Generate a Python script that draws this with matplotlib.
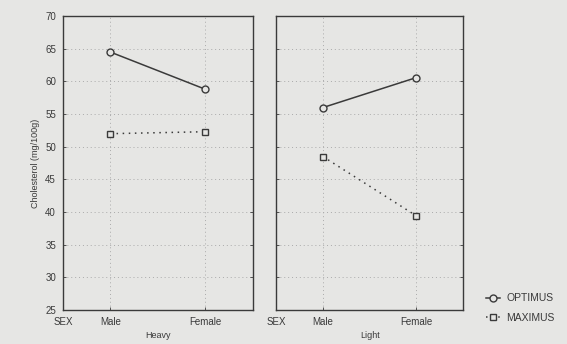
import matplotlib.pyplot as plt
from matplotlib.lines import Line2D

sex_labels = ['SEX', 'Male', 'Female']
panels = ['Heavy', 'Light']
optimus = {'Heavy': [64.5, 58.8], 'Light': [56.0, 60.6]}
maximus = {'Heavy': [52.0, 52.3], 'Light': [48.5, 39.4]}
yticks = [25, 30, 35, 40, 45, 50, 55, 60, 65, 70]

BG = '#e6e6e4'
INK = '#3a3a3a'

plt.rcParams['font.family'] = ['Liberation Sans', 'DejaVu Sans']

fig = plt.figure(figsize=(5.67, 3.44), dpi=100, facecolor=BG)
boxes = [[0.111, 0.099, 0.335, 0.854], [0.487, 0.099, 0.330, 0.854]]

for i, (panel, box) in enumerate(zip(panels, boxes)):
    ax = fig.add_axes(box)
    ax.set_facecolor(BG)
    xs = [1, 3]
    ax.plot(xs, optimus[panel], color=INK, lw=1.1, marker='o', ms=5,
            mfc=BG, mec=INK, mew=1.0)
    ax.plot(xs, maximus[panel], color=INK, lw=1.1, ls=(0, (1, 3)), marker='s', ms=5,
            mfc=BG, mec=INK, mew=1.0)
    ax.set_xlim(0, 4)
    ax.set_ylim(25, 70)
    ax.set_xticks([0, 1, 3])
    ax.set_xticklabels(sex_labels, fontsize=7, color=INK)
    ax.set_yticks(yticks)
    if i == 0:
        ax.set_yticklabels([str(v) for v in yticks], fontsize=7, color=INK)
        ax.set_ylabel('Cholesterol (mg/100g)', fontsize=6.5, color=INK)
    else:
        ax.set_yticklabels([])
    ax.set_xlabel(panel, fontsize=6.5, color=INK, labelpad=3)
    ax.grid(True, ls=(0, (1, 3)), color='#aaaaaa', lw=0.7)
    ax.tick_params(axis='both', direction='in', length=2, width=0.6, colors=INK,
                   labelcolor=INK, right=True, top=False, pad=5)
    for s in ax.spines.values():
        s.set_color(INK)
        s.set_linewidth(1.0)

handles = [
    Line2D([], [], color=INK, lw=1.1, marker='o', ms=5, mfc=BG, mec=INK),
    Line2D([], [], color=INK, lw=1.1, ls=(0, (1, 3)), marker='s', ms=5, mfc=BG, mec=INK),
]
fig.legend(handles, ['OPTIMUS', 'MAXIMUS'], loc='lower left',
           bbox_to_anchor=(0.84, 0.035), frameon=False, fontsize=7.5,
           handlelength=1.4, handletextpad=0.6, labelcolor=INK, labelspacing=0.9)

fig.savefig('out.png', dpi=100, facecolor=BG)
